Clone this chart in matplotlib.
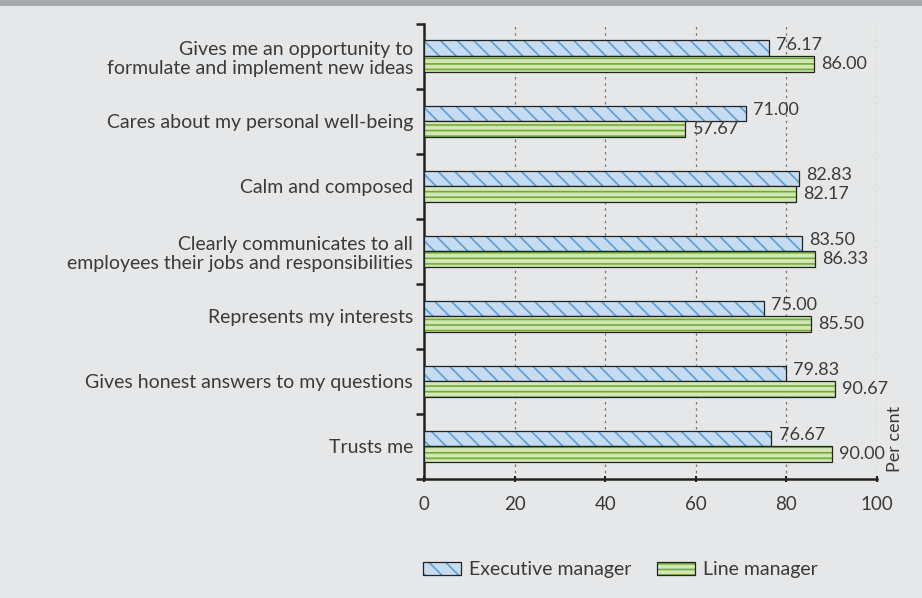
# Leader qualities: executive vs line manager
import numpy as np
import matplotlib.pyplot as plt

plt.rcParams['font.family'] = ['Lato', 'DejaVu Sans']
plt.rcParams['hatch.linewidth'] = 1.2

categories = [
    'Gives me an opportunity to\nformulate and implement new ideas',
    'Cares about my personal well-being',
    'Calm and composed',
    'Clearly communicates to all\nemployees their jobs and responsibilities',
    'Represents my interests',
    'Gives honest answers to my questions',
    'Trusts me',
]
executive = [76.17, 71.00, 82.83, 83.50, 75.00, 79.83, 76.67]
line_mgr = [86.00, 57.67, 82.17, 86.33, 85.50, 90.67, 90.00]
xticks = [0, 20, 40, 60, 80, 100]

bg = '#e6e7e8'
text_col = '#3a3a3a'
fs = 13

fig = plt.figure(figsize=(9.22, 5.98), dpi=100, facecolor=bg)
ax = fig.add_axes([0.4599, 0.199, 0.4913, 0.761])
ax.set_facecolor(bg)

# grey band on top
fig.patches.append(plt.Rectangle((0, 0.99), 1, 0.01, transform=fig.transFigure,
                                 facecolor='#a7a9ac', edgecolor='none'))

n = len(categories)
y = np.arange(n)[::-1].astype(float)
h = 0.245

b1 = ax.barh(y + h / 2, executive, height=h, facecolor='#c6dcf0', edgecolor='#222222',
             linewidth=0.9, hatch='\\\\', label='Executive manager', zorder=3)
b2 = ax.barh(y - h / 2, line_mgr, height=h, facecolor='#d4e6b5', edgecolor='#222222',
             linewidth=0.9, hatch='---', label='Line manager', zorder=3)
for p in b1:
    p._hatch_color = (0.36, 0.62, 0.84, 1.0)
for p in b2:
    p._hatch_color = (0.43, 0.68, 0.22, 1.0)

for yi, v in zip(y, executive):
    ax.text(v + 1.6, yi + h / 2 + 0.06, f'{v:.2f}', va='center', ha='left',
            fontsize=fs, color=text_col)
for yi, v in zip(y, line_mgr):
    ax.text(v + 1.6, yi - h / 2, f'{v:.2f}', va='center', ha='left',
            fontsize=fs, color=text_col)

ax.set_xlim(0, 100)
ax.set_ylim(-0.5, n - 0.5)
ax.set_xticks(xticks)
ax.set_xticklabels([str(t) for t in xticks], fontsize=13.5, color=text_col)
ax.set_yticks(y)
ax.set_yticklabels(categories, fontsize=14, color=text_col, linespacing=1.15)
ax.tick_params(axis='y', which='major', length=0, pad=8)
ax.set_yticks(np.arange(n + 1) - 0.5, minor=True)
ax.tick_params(axis='y', which='minor', length=6, width=1.8, color='#222222', direction='out')
ax.tick_params(axis='x', length=5, width=1.5, direction='inout', color='#222222', pad=10)

ax.grid(axis='x', linestyle=(0, (2, 3)), color='#777777', linewidth=0.9, zorder=0)
for s in ['top', 'right']:
    ax.spines[s].set_visible(False)
for s in ['left', 'bottom']:
    ax.spines[s].set_linewidth(1.8)
    ax.spines[s].set_color('#222222')

ax.text(1.022, 0.015, 'Per cent', transform=ax.transAxes, rotation=90,
        ha='left', va='bottom', fontsize=fs, color=text_col)

leg = fig.legend(loc='center', bbox_to_anchor=(0.673, 0.047), ncol=2, frameon=False,
                 fontsize=14, handlelength=1.95, handleheight=0.6, columnspacing=1.35,
                 handletextpad=0.4, labelcolor=text_col)
for p, c in zip(leg.get_patches(), [(0.36, 0.62, 0.84, 1.0), (0.43, 0.68, 0.22, 1.0)]):
    p._hatch_color = c

plt.savefig('out.png', dpi=100, facecolor=bg)
